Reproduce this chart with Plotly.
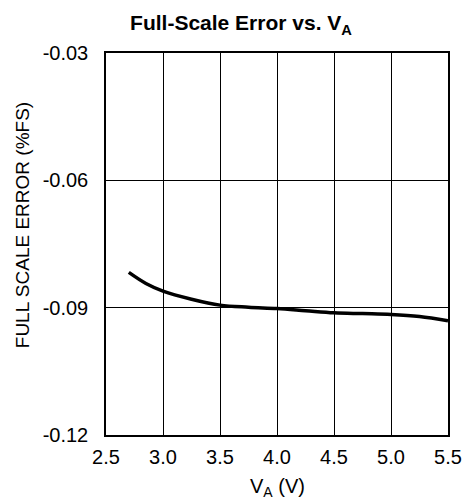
import plotly.graph_objects as go

# Data
supply_v = [2.7, 2.85, 3.0, 3.25, 3.5, 3.75, 4.0, 4.25, 4.5, 4.75, 5.0, 5.25, 5.5]
fs_error = [-0.0817, -0.0843, -0.0861, -0.0880, -0.0894, -0.0899, -0.0902,
            -0.0907, -0.0912, -0.0914, -0.0916, -0.0921, -0.0931]

x_ticks = [2.5, 3.0, 3.5, 4.0, 4.5, 5.0, 5.5]
y_ticks = [-0.12, -0.09, -0.06, -0.03]

FONT = "Liberation Sans, Arial, sans-serif"

fig = go.Figure()
fig.add_trace(go.Scatter(
    x=supply_v, y=fs_error, mode="lines",
    line=dict(color="black", width=3.5, shape="spline"),
    showlegend=False, hoverinfo="skip",
))

# page is 474x501; the html body adds an 8px margin, so the figure is shrunk by it
OFF = 8
W, H = 474 - OFF, 501 - OFF
ml, mr, mt, mb = 106 - OFF, 19, 53 - OFF, 66
pw, ph = W - ml - mr, H - mt - mb

def px_y(page_y):
    # page pixel y -> paper coordinate
    return (H - mb - (page_y - OFF)) / ph

def px_x(page_x):
    return ((page_x - OFF) - ml) / pw

fig.update_layout(
    width=W, height=H,
    margin=dict(l=ml, r=mr, t=mt, b=mb),
    paper_bgcolor="white", plot_bgcolor="white",
    font=dict(family=FONT, size=20, color="black"),
    title=dict(
        text="<b>Full-Scale Error vs. V<sub>A</sub></b>",
        x=(241 - OFF) / W, xref="container", xanchor="center",
        y=1 - (23 - OFF) / H, yref="container", yanchor="middle",
        font=dict(family=FONT, size=21, color="black"),
    ),
    xaxis=dict(
        range=[2.5, 5.5], tickvals=x_ticks,
        ticktext=[f"{v:.1f}" for v in x_ticks],
        showgrid=True, gridcolor="black", gridwidth=1,
        showline=True, linecolor="black", linewidth=1.5, mirror=True,
        ticks="", zeroline=False, ticklabelstandoff=3,
        fixedrange=True,
    ),
    yaxis=dict(
        range=[-0.12, -0.03], tickvals=y_ticks,
        ticktext=[f"{v:.2f}" for v in y_ticks],
        showgrid=True, gridcolor="black", gridwidth=1,
        showline=True, linecolor="black", linewidth=1.5, mirror=True,
        ticks="", zeroline=False, ticklabelstandoff=12,
        fixedrange=True,
    ),
    annotations=[
        dict(
            text="FULL SCALE ERROR (%FS)", textangle=-90,
            xref="paper", yref="paper",
            x=px_x(21), y=px_y(225.5),
            xanchor="center", yanchor="middle", showarrow=False,
            font=dict(family=FONT, size=19, color="black"),
        ),
        dict(
            text="V<sub>A</sub> (V)",
            xref="paper", yref="paper",
            x=0.5, y=px_y(487),
            xanchor="center", yanchor="middle", showarrow=False,
            font=dict(family=FONT, size=20, color="black"),
        ),
    ],
)

fig.write_html("out.html")
